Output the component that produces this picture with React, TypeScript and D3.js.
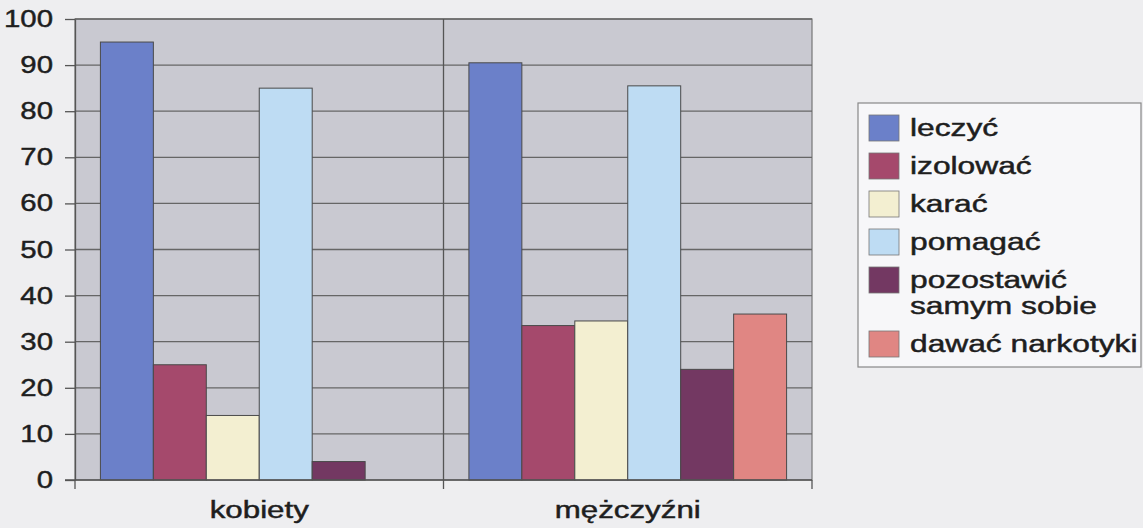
import React, { useEffect, useRef } from "react";
import * as d3 from "d3";

const groups = ["kobiety", "mężczyźni"];
const series = [
  "leczyć",
  "izolować",
  "karać",
  "pomagać",
  "pozostawić\nsamym sobie",
  "dawać narkotyki",
];
const kobiety = [95, 25, 14, 85, 4, 0];
const mezczyzni = [90.5, 33.5, 34.5, 85.5, 24, 36];
const colors = ["#6b80c9", "#a5496c", "#f3efd1", "#bedcf3", "#733862", "#e08683"];
const yTicks = [0, 10, 20, 30, 40, 50, 60, 70, 80, 90, 100];

const values = [kobiety, mezczyzni];

export default function App() {
  const ref = useRef<SVGSVGElement>(null);

  useEffect(() => {
    const W = 1143;
    const H = 528;
    const m = { left: 75, right: 812, top: 19, bottom: 480 };
    const font = "'Liberation Sans', Arial, sans-serif";
    const ink = "#1e1e1e";

    const svg = d3.select(ref.current);
    svg.selectAll("*").remove();

    svg.append("rect").attr("width", W).attr("height", H).attr("fill", "#eeeef0");

    const x0 = d3.scaleBand().domain(groups).range([m.left, m.right]);
    const x1 = d3
      .scaleBand()
      .domain(series)
      .range([0, x0.bandwidth()])
      .paddingInner(0)
      .paddingOuter(0.48);
    const y = d3.scaleLinear().domain([0, 100]).range([m.bottom, m.top]);

    // plot area
    svg
      .append("rect")
      .attr("x", m.left)
      .attr("y", m.top)
      .attr("width", m.right - m.left)
      .attr("height", m.bottom - m.top)
      .attr("fill", "#c9c9d1")
      .attr("stroke", "#777")
      .attr("stroke-width", 1.2);

    // horizontal gridlines
    svg
      .append("g")
      .selectAll("line")
      .data(yTicks.slice(1))
      .join("line")
      .attr("x1", m.left)
      .attr("x2", m.right)
      .attr("y1", (d) => y(d))
      .attr("y2", (d) => y(d))
      .attr("stroke", "#666")
      .attr("stroke-width", 1.3);

    // category divider + boundary ticks
    const bounds = [...groups.map((g) => x0(g) as number), m.right];
    svg
      .append("g")
      .selectAll("line")
      .data(bounds)
      .join("line")
      .attr("x1", (d) => d)
      .attr("x2", (d) => d)
      .attr("y1", (d, i) => (i === 1 ? m.top : m.bottom))
      .attr("y2", m.bottom + 9)
      .attr("stroke", "#555")
      .attr("stroke-width", 1.3);

    // bars
    svg
      .append("g")
      .selectAll("g")
      .data(groups)
      .join("g")
      .attr("transform", (d) => `translate(${x0(d)},0)`)
      .selectAll("rect")
      .data((d, i) =>
        series
          .map((s, j) => ({ s, v: values[i][j], c: colors[j] }))
          .filter((e) => e.v > 0)
      )
      .join("rect")
      .attr("x", (d) => x1(d.s) as number)
      .attr("width", x1.bandwidth())
      .attr("y", (d) => y(d.v))
      .attr("height", (d) => y(0) - y(d.v))
      .attr("fill", (d) => d.c)
      .attr("stroke", "#4a4a4a")
      .attr("stroke-width", 1);

    // y axis
    const yAxis = svg
      .append("g")
      .attr("transform", `translate(${m.left},0)`)
      .call(d3.axisLeft(y).tickValues(yTicks).tickSize(10).tickSizeOuter(0));
    yAxis.select(".domain").attr("stroke", "#555").attr("stroke-width", 1.3);
    yAxis.selectAll(".tick line").attr("stroke", "#555").attr("stroke-width", 1.3);
    yAxis
      .selectAll(".tick text")
      .attr("x", 0)
      .attr("transform", "translate(-22,0) scale(1.25,1)")
      .attr("font-family", font)
      .attr("font-size", 23.5)
      .attr("fill", ink)
      .attr("stroke", ink)
      .attr("stroke-width", 0.45);

    // x axis
    const xAxis = svg
      .append("g")
      .attr("transform", `translate(0,${m.bottom})`)
      .call(d3.axisBottom(x0).tickSize(0).tickSizeOuter(0));
    xAxis
      .select(".domain")
      .attr("stroke", "#555")
      .attr("stroke-width", 1.3)
      .attr("d", `M${m.left - 10},0H${m.right}`);
    xAxis
      .selectAll(".tick text")
      .attr("y", 0)
      .attr("dy", 0)
      .attr("transform", "translate(0,38) scale(1.36,1)")
      .attr("font-family", font)
      .attr("font-size", 23)
      .attr("fill", ink)
      .attr("stroke", ink)
      .attr("stroke-width", 0.45);

    // legend
    const lg = svg.append("g");
    lg.append("rect")
      .attr("x", 858)
      .attr("y", 103)
      .attr("width", 283)
      .attr("height", 264)
      .attr("fill", "#f7f7f9")
      .attr("stroke", "#888")
      .attr("stroke-width", 1.2);

    let extra = 0;
    series.forEach((s, i) => {
      const lines = s.split("\n");
      const base = 136 + 38 * i + 26 * extra;
      lg.append("rect")
        .attr("x", 869)
        .attr("y", base - 21)
        .attr("width", 30)
        .attr("height", 26)
        .attr("fill", colors[i])
        .attr("stroke", "#777")
        .attr("stroke-width", 0.8);
      lines.forEach((t, k) => {
        lg.append("text")
          .attr("transform", `translate(910,${base + 26 * k}) scale(1.38,1)`)
          .attr("font-family", font)
          .attr("font-size", 23)
          .attr("fill", ink)
          .attr("stroke", ink)
          .attr("stroke-width", 0.45)
          .text(t);
      });
      extra += lines.length - 1;
    });
  }, []);

  return (
    <svg
      ref={ref}
      width={1143}
      height={528}
      style={{ position: "absolute", left: 0, top: 0, display: "block" }}
    />
  );
}
